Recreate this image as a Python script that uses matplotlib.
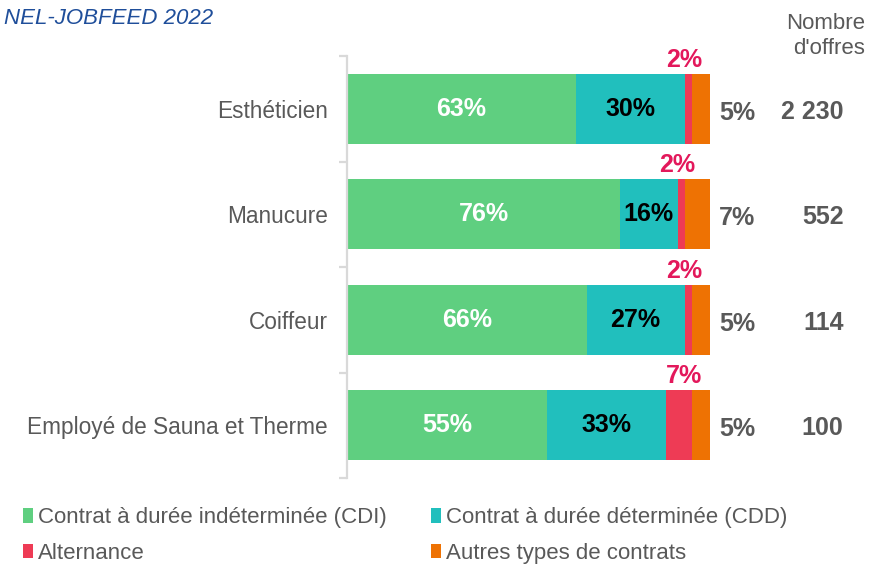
import matplotlib.pyplot as plt
from matplotlib.patches import Patch
import numpy as np

plt.rcParams["font.family"] = ["Liberation Sans", "DejaVu Sans"]

jobs = ["Esthéticien", "Manucure", "Coiffeur", "Employé de Sauna et Therme"]
cdi = [63, 76, 66, 55]
cdd = [30, 16, 27, 33]
alternance = [2, 2, 2, 7]
autres = [5, 7, 5, 5]
nb_offres = ["2 230", "552", "114", "100"]

series_names = [
    "Contrat à durée indéterminée (CDI)",
    "Contrat à durée déterminée (CDD)",
    "Alternance",
    "Autres types de contrats",
]
colors = ["#5FCF80", "#21BFBD", "#EE3B55", "#EE7203"]
GRAY = "#595959"
RED_TXT = "#E3185B"

fig = plt.figure(figsize=(8.69, 5.64), dpi=100)
ax = fig.add_axes([347 / 869, 1 - 478 / 564, 363 / 869, 422 / 564])

y = np.arange(len(jobs))
h = 0.66
data = np.array([cdi, cdd, alternance, autres], dtype=float)
# rounded labels don't always sum to 100, bars are drawn as shares of the row total
shares = data / data.sum(axis=0) * 100
left = np.zeros(len(jobs))
for vals, col in zip(shares, colors):
    ax.barh(y, vals, left=left, height=h, color=col, linewidth=0)
    left = left + vals

ax.set_xlim(0, 100)
ax.set_ylim(3.5, -0.5)

start_cdd = shares[0]
end_alt = shares[0] + shares[1] + shares[2]
for i in range(len(jobs)):
    ax.text(shares[0][i] / 2, y[i], f"{cdi[i]}%", ha="center", va="center",
            color="white", fontsize=18, fontweight="bold")
    ax.text(start_cdd[i] + shares[1][i] / 2, y[i], f"{cdd[i]}%", ha="center", va="center",
            color="black", fontsize=18, fontweight="bold")
    ax.text(end_alt[i] - 2.2, y[i] - h / 2 - 0.02,
            f"{alternance[i]}%", ha="center", va="bottom",
            color=RED_TXT, fontsize=18, fontweight="bold")
    ax.text(107.5, y[i] + 0.04, f"{autres[i]}%", ha="center", va="center",
            color=GRAY, fontsize=18, fontweight="bold")
    ax.text(136.8, y[i] + 0.03, nb_offres[i], ha="right", va="center",
            color=GRAY, fontsize=18, fontweight="bold", clip_on=False)

fig.text(1 - 4 / 869, 1 - 36 / 564, "Nombre\nd'offres",
         ha="right", va="center", color=GRAY, fontsize=16, linespacing=1.2)

fig.text(213 / 869, 1 - 18 / 564, "NEL-JOBFEED 2022", ha="right", va="center",
         color="#1F4E9A", fontsize=16, style="italic")

# axes styling
for s in ["top", "right", "bottom"]:
    ax.spines[s].set_visible(False)
ax.spines["left"].set_color("#D9D9D9")
ax.spines["left"].set_linewidth(1.6)
ax.set_xticks([])
ax.set_yticks(y)
ax.set_yticklabels(jobs, fontsize=16.3, color=GRAY)
ax.tick_params(axis="y", which="major", length=0, pad=14)
ax.set_yticks(np.arange(-0.5, len(jobs)), minor=True)
ax.tick_params(axis="y", which="minor", length=6, width=1.6, color="#D9D9D9")

# legend fills column by column, reorder so rows read CDI/CDD then Alternance/Autres
order = [0, 2, 1, 3]
handles = [Patch(facecolor=colors[k], edgecolor="none") for k in order]
labels = [series_names[k] for k in order]
fig.legend(handles, labels, ncol=2, loc="lower left",
           bbox_to_anchor=(0.004, -0.035), frameon=False, fontsize=16,
           labelcolor=GRAY, handlelength=0.45, handleheight=0.6,
           handletextpad=0.2, columnspacing=2.0, labelspacing=0.65)

fig.savefig("out.png", dpi=100)
